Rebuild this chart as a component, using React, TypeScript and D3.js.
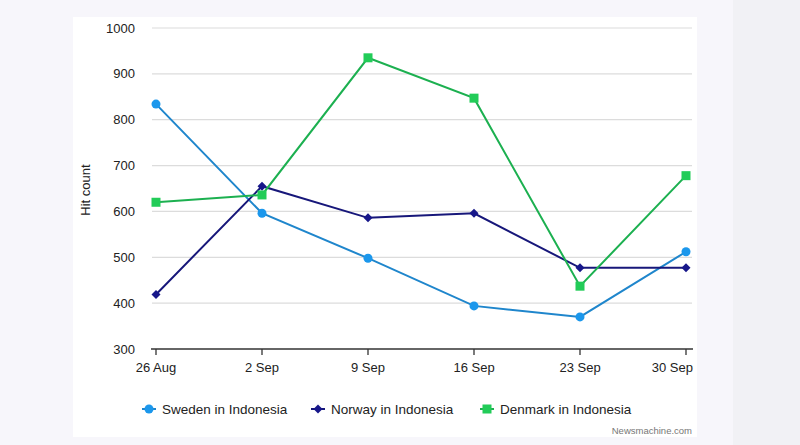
import * as d3 from "d3";

const W = 800;
const H = 445;
const MARGIN = { top: 28, right: 114, bottom: 96, left: 156 };

const dates = ["26 Aug", "2 Sep", "9 Sep", "16 Sep", "23 Sep", "30 Sep"];
const yTicks = [300, 400, 500, 600, 700, 800, 900, 1000];

const swedenValues = [834, 596, 498, 394, 370, 512];
const norwayValues = [419, 655, 586, 596, 477, 477];
const denmarkValues = [620, 636, 935, 847, 437, 678];

const seriesNames = ["Sweden in Indonesia", "Norway in Indonesia", "Denmark in Indonesia"];

type Series = {
  name: string;
  values: number[];
  line: string;
  marker: string;
  shape: "circle" | "diamond" | "square";
};

const series: Series[] = [
  { name: seriesNames[0], values: swedenValues, line: "#1f86cc", marker: "#1b97ec", shape: "circle" },
  { name: seriesNames[1], values: norwayValues, line: "#17177a", marker: "#17178a", shape: "diamond" },
  { name: seriesNames[2], values: denmarkValues, line: "#1cb050", marker: "#22cc58", shape: "square" },
];

const FONT = "'Liberation Sans', Arial, sans-serif";

const Marker = ({ shape, x, y, color }: { shape: Series["shape"]; x: number; y: number; color: string }) => {
  if (shape === "circle") return <circle cx={x} cy={y} r={4.5} fill={color} />;
  if (shape === "square") return <rect x={x - 4.5} y={y - 4.5} width={9} height={9} fill={color} />;
  const s = 4.5;
  return <path d={`M${x},${y - s}L${x + s},${y}L${x},${y + s}L${x - s},${y}Z`} fill={color} />;
};

export default function App() {
  const boundsWidth = W - MARGIN.left - MARGIN.right;
  const boundsHeight = H - MARGIN.top - MARGIN.bottom;

  const xScale = d3.scalePoint<string>().domain(dates).range([0, boundsWidth]);
  const yScale = d3.scaleLinear().domain([300, 1000]).range([boundsHeight, 0]);

  const lineBuilder = d3
    .line<number>()
    .x((_, i) => xScale(dates[i]) ?? 0)
    .y((d) => yScale(d));

  const legendX = [149, 318, 487];

  return (
    <svg
      width={W}
      height={H}
      style={{ position: "absolute", left: 0, top: 0, fontFamily: FONT }}
    >
      <rect x={0} y={0} width={W} height={H} fill="#f1f1f5" />
      <rect x={0} y={0} width={733} height={H} fill="#f7f6fb" />
      <rect x={73} y={17} width={624} height={420} fill="#ffffff" />

      <g transform={`translate(${MARGIN.left},${MARGIN.top})`}>
        {yTicks.map((t) => (
          <g key={t}>
            {t > 300 && (
              <line x1={-4} x2={boundsWidth + 6} y1={yScale(t)} y2={yScale(t)} stroke="#dcdcdc" strokeWidth={1.2} />
            )}
            <text x={-21} y={yScale(t)} dy="0.35em" textAnchor="end" fontSize={13} fill="#222">
              {t}
            </text>
          </g>
        ))}

        <line x1={-5} x2={boundsWidth + 7} y1={boundsHeight} y2={boundsHeight} stroke="#333" strokeWidth={1.5} />
        {dates.map((d, i) => {
          const last = i === dates.length - 1;
          return (
            <g key={d} transform={`translate(${xScale(d)},${boundsHeight})`}>
              <line y1={0} y2={6} stroke="#333" strokeWidth={1.3} />
              <text x={last ? 7 : 0} y={23} textAnchor={last ? "end" : "middle"} fontSize={13} fill="#222">
                {d}
              </text>
            </g>
          );
        })}

        <text
          transform={`translate(${-66},${162}) rotate(-90)`}
          textAnchor="middle"
          fontSize={13}
          fill="#222"
        >
          Hit count
        </text>

        {series.map((s) => (
          <g key={s.name}>
            <path d={lineBuilder(s.values) ?? ""} fill="none" stroke={s.line} strokeWidth={2} />
            {s.values.map((v, i) => (
              <Marker key={i} shape={s.shape} x={xScale(dates[i]) ?? 0} y={yScale(v)} color={s.marker} />
            ))}
          </g>
        ))}
      </g>

      {series.map((s, i) => (
        <g key={s.name} transform={`translate(${legendX[i]},409)`}>
          <line x1={-7} x2={7} y1={0} y2={0} stroke={s.line} strokeWidth={2} />
          <Marker shape={s.shape} x={0} y={0} color={s.marker} />
          <text x={13} dy="0.35em" fontSize={13.5} fill="#222">
            {s.name}
          </text>
        </g>
      ))}

      <text x={692} y={431} dy="0.35em" textAnchor="end" fontSize={9.5} fill="#777">
        Newsmachine.com
      </text>
    </svg>
  );
}
